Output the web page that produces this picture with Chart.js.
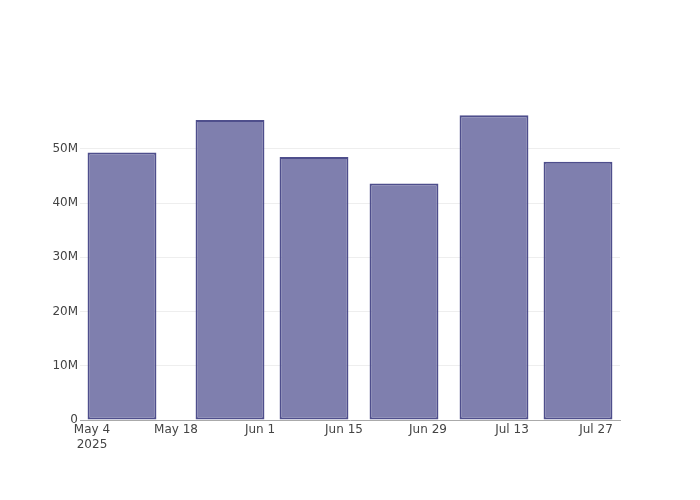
<!DOCTYPE html>
<html>
<head>
<meta charset="utf-8">
<script src="https://cdn.jsdelivr.net/npm/chart.js@4"></script>
<style>
  body { margin: 0; background: #fff; }
</style>
</head>
<body>
<canvas id="bar-chart" width="700" height="500"></canvas>
<script>
// bar dates (center of each bar) and values
const barDates = ['2025-05-09', '2025-05-27', '2025-06-10', '2025-06-25', '2025-07-10', '2025-07-24'];
const barValues = [49.3e6, 55.3e6, 48.5e6, 43.6e6, 56.2e6, 47.6e6];

// axis ticks
const xTickDates = ['2025-05-04', '2025-05-18', '2025-06-01', '2025-06-15', '2025-06-29', '2025-07-13', '2025-07-27'];
const yTickValues = [0, 10e6, 20e6, 30e6, 40e6, 50e6];
const xRange = ['2025-05-02', '2025-07-31'];
const yMax = 59.0e6;

const monthNames = ['Jan', 'Feb', 'Mar', 'Apr', 'May', 'Jun', 'Jul', 'Aug', 'Sep', 'Oct', 'Nov', 'Dec'];
const toMs = d => Date.parse(d + 'T00:00:00Z');

const font = { family: 'DejaVu Sans', size: 12 };

const chartCanvas = document.querySelector('#bar-chart');

new Chart(chartCanvas, {
  type: 'bar',
  data: {
    datasets: [{
      data: barDates.map((d, i) => ({ x: toMs(d), y: barValues[i] })),
      backgroundColor: '#7f7fae',
      borderColor: '#4e4e8c',
      borderWidth: 2,
      borderSkipped: false,
      barPercentage: 0.82,
      categoryPercentage: 1
    }]
  },
  options: {
    responsive: false,
    animation: false,
    layout: { padding: { top: 100, right: 80, left: 0, bottom: 0 } },
    plugins: {
      legend: { display: false },
      tooltip: { enabled: false }
    },
    scales: {
      x: {
        type: 'linear',
        offset: false,
        min: toMs(xRange[0]),
        max: toMs(xRange[1]),
        afterBuildTicks: scale => {
          scale.ticks = xTickDates.map(d => ({ value: toMs(d) }));
        },
        afterFit: scale => { scale.height = 80; },
        grid: { display: false, drawTicks: false },
        border: { display: true, color: '#aaa', width: 1 },
        ticks: {
          color: '#444',
          font: font,
          padding: 3,
          autoSkip: false,
          maxRotation: 0,
          callback: function (value, index) {
            const dt = new Date(value);
            const label = monthNames[dt.getUTCMonth()] + ' ' + dt.getUTCDate();
            return index === 0 ? [label, String(dt.getUTCFullYear())] : label;
          }
        }
      },
      y: {
        min: 0,
        max: yMax,
        afterBuildTicks: scale => {
          scale.ticks = yTickValues.map(v => ({ value: v }));
        },
        afterFit: scale => { scale.width = 80; },
        grid: {
          drawTicks: false,
          color: ctx => (ctx.tick && ctx.tick.value === 0 ? 'rgba(0,0,0,0)' : '#eee')
        },
        border: { display: false },
        ticks: {
          color: '#444',
          font: font,
          padding: 2,
          callback: v => (v === 0 ? '0' : v / 1e6 + 'M')
        }
      }
    }
  }
});
</script>
</body>
</html>
